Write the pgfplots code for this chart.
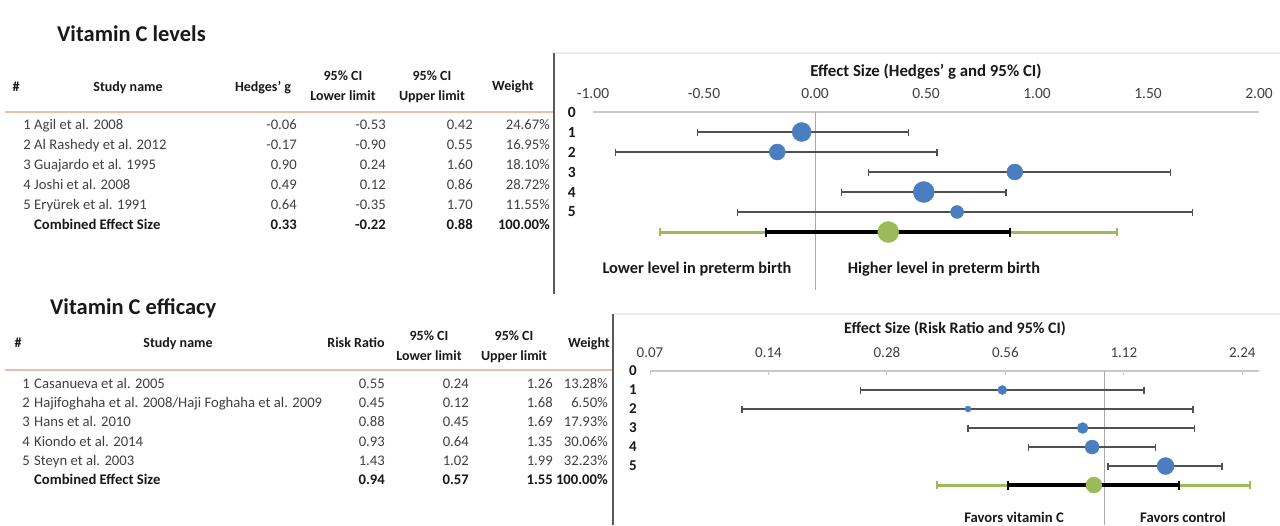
\documentclass[border=0pt]{standalone}
\usepackage{fontspec}
\setmainfont{Carlito}
\usepackage{pgfplots}
\pgfplotsset{compat=1.18}
\definecolor{ptblue}{RGB}{74,126,193}
\definecolor{ptgreen}{RGB}{155,187,89}
\definecolor{ciline}{RGB}{80,80,80}
\definecolor{axgray}{RGB}{200,200,200}
\definecolor{refgray}{RGB}{170,170,170}
\definecolor{txt}{RGB}{64,64,64}
\definecolor{hdr}{RGB}{25,25,25}
\definecolor{orangeline}{RGB}{236,190,170}
\definecolor{framegray}{RGB}{90,90,90}
\definecolor{faint}{RGB}{236,236,236}
\newcommand\tf{\fontsize{14.67}{16}\selectfont}
\newcommand\anf{\fontsize{16.3}{18}\selectfont\bfseries}
\newcommand\hf{\fontsize{14}{16}\selectfont\bfseries}
\newcommand\ttl{\fontsize{22.5}{24}\selectfont\bfseries}
\pgfplotsset{
  ci/.style={color=ciline, line width=1.3pt, mark=|, mark size=3.5pt, mark options={solid, line width=1.3pt}},
  cigreen/.style={color=ptgreen, line width=3pt, mark=|, mark size=4pt, mark options={solid, line width=2pt}},
  ciblack/.style={color=black, line width=3.5pt, mark=|, mark size=4.5pt, mark options={solid, line width=2pt}},
  dot/.style={only marks, mark=*, color=ptblue, mark options={fill=ptblue, draw=ptblue}, mark size=#1},
  gdot/.style={only marks, mark=*, color=ptgreen, mark options={fill=ptgreen, draw=ptgreen}, mark size=#1},
  refline/.style={color=refgray, line width=1pt, no marks},
}
% table rows: baseline, number, name, value, lower, upper, weight
\newcommand\rowA[7]{%
  \node[anchor=base east] at (31,#1) {#2};
  \node[anchor=base west] at (34,#1) {#3};
  \node[anchor=base east] at (297,#1) {#4};
  \node[anchor=base east] at (386,#1) {#5};
  \node[anchor=base east] at (473,#1) {#6};
  \node[anchor=base east] at (550,#1) {#7};}
\newcommand\rowB[7]{%
  \node[anchor=base east] at (30,#1) {#2};
  \node[anchor=base west] at (34,#1) {#3};
  \node[anchor=base east] at (385,#1) {#4};
  \node[anchor=base east] at (469,#1) {#5};
  \node[anchor=base east] at (553,#1) {#6};
  \node[anchor=base east] at (608,#1) {#7};}
\begin{document}
\begin{tikzpicture}[x=1pt,y=-1pt]
\path[use as bounding box, fill=white] (0,0) rectangle (1280,525);

% ---------- panel frames ----------
\draw[faint, line width=1.5pt] (554,53) -- (1280,53);
\draw[framegray, line width=1.5pt] (554,53) -- (554,294);
\draw[faint, line width=1.5pt] (613,314) -- (1280,314);
\draw[framegray, line width=1.5pt] (613,314) -- (613,525);
\draw[orangeline, line width=2pt] (5,112) -- (553,112);
\draw[orangeline, line width=2pt] (5,370) -- (612,370);

% ---------- top table ----------
\begin{scope}[every node/.style={inner sep=0pt, text=txt, font=\tf}]
\node[anchor=base west, text=hdr, font=\ttl] at (57,41) {Vitamin C levels};
\begin{scope}[every node/.append style={text=hdr, font=\hf}]
\node[anchor=base] at (16,91) {\#};
\node[anchor=base] at (128,91) {Study name};
\node[anchor=base] at (263,91) {Hedges' g};
\node[anchor=base] at (343,80) {95\% CI};
\node[anchor=base] at (343,100) {Lower limit};
\node[anchor=base] at (432,80) {95\% CI};
\node[anchor=base] at (432,100) {Upper limit};
\node[anchor=base] at (513,90) {Weight};
\end{scope}
\rowA{129}{1}{Agil et al. 2008}{-0.06}{-0.53}{0.42}{24.67\%}
\rowA{149}{2}{Al Rashedy et al. 2012}{-0.17}{-0.90}{0.55}{16.95\%}
\rowA{169}{3}{Guajardo et al. 1995}{0.90}{0.24}{1.60}{18.10\%}
\rowA{189}{4}{Joshi et al. 2008}{0.49}{0.12}{0.86}{28.72\%}
\rowA{209}{5}{Eryürek et al. 1991}{0.64}{-0.35}{1.70}{11.55\%}
\begin{scope}[every node/.append style={text=hdr, font=\tf\bfseries}]
\rowA{229}{}{Combined Effect Size}{0.33}{-0.22}{0.88}{100.00\%}
\end{scope}

% ---------- bottom table ----------
\node[anchor=base west, text=hdr, font=\ttl] at (50,314) {Vitamin C efficacy};
\begin{scope}[every node/.append style={text=hdr, font=\hf}]
\node[anchor=base] at (18,347) {\#};
\node[anchor=base] at (178,347) {Study name};
\node[anchor=base] at (356,347) {Risk Ratio};
\node[anchor=base] at (429,340) {95\% CI};
\node[anchor=base] at (429,360) {Lower limit};
\node[anchor=base] at (514,340) {95\% CI};
\node[anchor=base] at (514,360) {Upper limit};
\node[anchor=base] at (589,347) {Weight};
\end{scope}
\rowB{388}{1}{Casanueva et al. 2005}{0.55}{0.24}{1.26}{13.28\%}
\rowB{407}{2}{Hajifoghaha et al. 2008/Haji Foghaha et al. 2009}{0.45}{0.12}{1.68}{6.50\%}
\rowB{426}{3}{Hans et al. 2010}{0.88}{0.45}{1.69}{17.93\%}
\rowB{446}{4}{Kiondo et al. 2014}{0.93}{0.64}{1.35}{30.06\%}
\rowB{465}{5}{Steyn et al. 2003}{1.43}{1.02}{1.99}{32.23\%}
\begin{scope}[every node/.append style={text=hdr, font=\tf\bfseries}]
\rowB{484}{}{Combined Effect Size}{0.94}{0.57}{1.55}{100.00\%}
\end{scope}

% ---------- plot annotations ----------
\node[anchor=base, text=hdr, font=\fontsize{16.8}{18}\selectfont\bfseries] at (926,76) {Effect Size (Hedges' g and 95\% CI)};
\node[anchor=base, text=hdr, font=\anf] at (697,273) {Lower level in preterm birth};
\node[anchor=base, text=hdr, font=\anf] at (944,273) {Higher level in preterm birth};
\node[anchor=base, text=hdr, font=\fontsize{16}{18}\selectfont\bfseries] at (955,333) {Effect Size (Risk Ratio and 95\% CI)};
\node[anchor=base, text=hdr, font=\tf\bfseries] at (1014,522) {Favors vitamin C};
\node[anchor=base, text=hdr, font=\tf\bfseries] at (1183,522) {Favors control};
\end{scope}

% ---------- top forest plot ----------
\begin{axis}[
  at={(593pt,-112pt)}, anchor=north west,
  width=666pt, height=178pt, scale only axis,
  xmin=-1, xmax=2, ymin=-8.9, ymax=0,
  axis x line*=top, axis y line*=left,
  y axis line style={draw=none},
  x axis line style={draw=axgray, line width=1.5pt},
  xtick={-1,-0.5,0,0.5,1,1.5,2},
  xticklabels={-1.00,-0.50,0.00,0.50,1.00,1.50,2.00},
  ytick={0,-1,-2,-3,-4,-5}, yticklabels={0,1,2,3,4,5},
  major tick length=0pt,
  tick label style={font=\fontsize{15.5}{17}\selectfont, text=txt, inner sep=0pt},
  xticklabel style={anchor=base, yshift=14pt},
  yticklabel style={anchor=east, xshift=-17pt, font=\fontsize{15.5}{17}\selectfont\bfseries, text=hdr},
  clip=false,
]
\addplot[refline] coordinates {(0,0) (0,-8.9)};
\addplot[ci] coordinates {(-0.53,-1) (0.42,-1)};
\addplot[ci] coordinates {(-0.90,-2) (0.55,-2)};
\addplot[ci] coordinates {(0.24,-3) (1.60,-3)};
\addplot[ci] coordinates {(0.12,-4) (0.86,-4)};
\addplot[ci] coordinates {(-0.35,-5) (1.70,-5)};
\addplot[cigreen] coordinates {(-0.70,-6) (1.36,-6)};
\addplot[ciblack] coordinates {(-0.22,-6) (0.88,-6)};
\addplot[dot=9.5pt] coordinates {(-0.06,-1)};
\addplot[dot=8pt] coordinates {(-0.17,-2)};
\addplot[dot=8pt] coordinates {(0.90,-3)};
\addplot[dot=10.5pt] coordinates {(0.49,-4)};
\addplot[dot=6.5pt] coordinates {(0.64,-5)};
\addplot[gdot=10.5pt] coordinates {(0.33,-6)};
\end{axis}

% ---------- bottom forest plot ----------
\begin{axis}[
  at={(650pt,-371pt)}, anchor=north west,
  width=609pt, height=154pt, scale only axis,
  xmode=log, log basis x=2,
  xmin=0.07, xmax=2.47, ymin=-8.1, ymax=0,
  axis x line*=top, axis y line*=left,
  y axis line style={draw=none},
  x axis line style={draw=axgray, line width=1.5pt},
  xtick={0.07,0.14,0.28,0.56,1.12,2.24},
  xticklabels={0.07,0.14,0.28,0.56,1.12,2.24},
  ytick={0,-1,-2,-3,-4,-5}, yticklabels={0,1,2,3,4,5},
  xtick style={draw=axgray, line width=1pt},
  ytick style={draw=none},
  major tick length=4pt, tick align=inside,
  tick label style={font=\fontsize{15}{17}\selectfont, text=txt, inner sep=0pt},
  xticklabel style={anchor=base, yshift=14pt},
  yticklabel style={anchor=east, xshift=-13pt, font=\fontsize{15}{17}\selectfont\bfseries, text=hdr},
  clip=false,
]
\addplot[refline] coordinates {(1,0) (1,-8.1)};
\addplot[ci] coordinates {(0.24,-1) (1.26,-1)};
\addplot[ci] coordinates {(0.12,-2) (1.68,-2)};
\addplot[ci] coordinates {(0.45,-3) (1.69,-3)};
\addplot[ci] coordinates {(0.64,-4) (1.35,-4)};
\addplot[ci] coordinates {(1.02,-5) (1.99,-5)};
\addplot[cigreen] coordinates {(0.375,-6) (2.34,-6)};
\addplot[ciblack] coordinates {(0.57,-6) (1.55,-6)};
\addplot[dot=4.5pt] coordinates {(0.55,-1)};
\addplot[dot=3pt] coordinates {(0.45,-2)};
\addplot[dot=5.5pt] coordinates {(0.88,-3)};
\addplot[dot=7pt] coordinates {(0.93,-4)};
\addplot[dot=8.5pt] coordinates {(1.43,-5)};
\addplot[gdot=8pt] coordinates {(0.94,-6)};
\end{axis}
\end{tikzpicture}
\end{document}
